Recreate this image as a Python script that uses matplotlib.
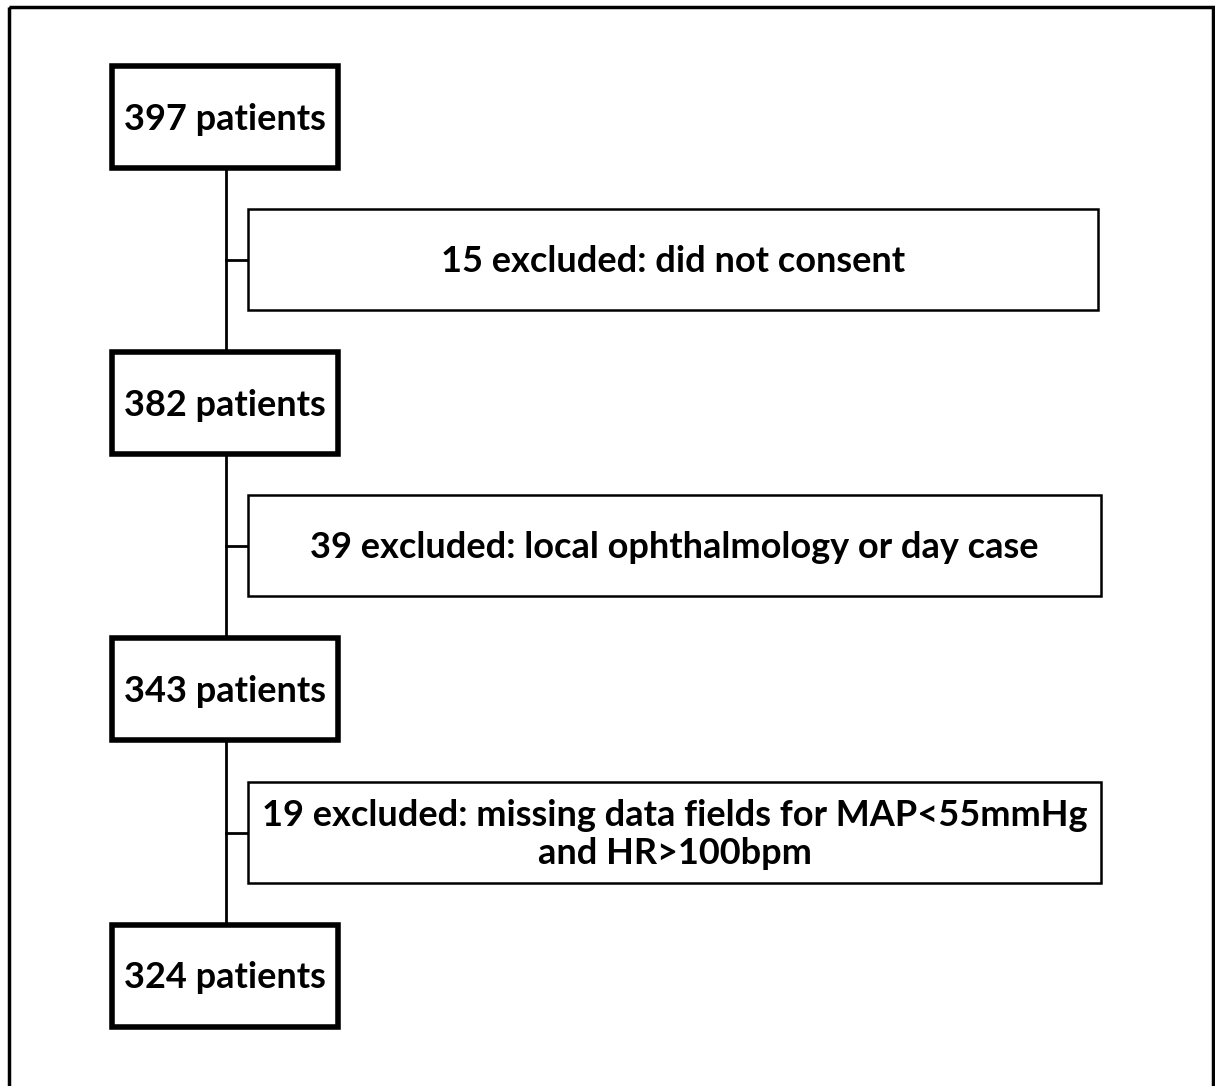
import matplotlib.pyplot as plt
from matplotlib.patches import Rectangle

plt.rcParams['font.family'] = ['Lato', 'DejaVu Sans']

# flow data
patients = [397, 382, 343, 324]
excluded = [15, 39, 19]
reasons = ["did not consent",
           "local ophthalmology or day case",
           "missing data fields for MAP<55mmHg\nand HR>100bpm"]

W, H = 1215, 1086
fig = plt.figure(figsize=(W / 100, H / 100), dpi=100)
ax = fig.add_axes([0, 0, 1, 1])
ax.set_xlim(0, W)
ax.set_ylim(H, 0)
ax.axis('off')

# outer frame
ax.add_patch(Rectangle((9, 7), 1204, 1100, fill=False, lw=2.5, ec='black'))

# main column boxes
px0, px1 = 112, 338
ptops = [66, 352, 638, 925]
ph = 102
spine_x = 226

ax.plot([spine_x, spine_x], [ptops[0] + ph, ptops[-1]], color='black', lw=2, zorder=1)

for n, top in zip(patients, ptops):
    ax.add_patch(Rectangle((px0, top), px1 - px0, ph, fill=True, fc='white',
                           ec='black', lw=4, zorder=2))
    ax.text((px0 + px1) / 2, top + ph / 2 + 2, f"{n} patients", ha='center', va='center',
            fontsize=26, fontweight='bold', zorder=3)

# exclusion boxes
ex0 = 248
ex1s = [1098, 1101, 1101]
etops = [209, 495, 782]
eh = 101
for k, reason, top, ex1 in zip(excluded, reasons, etops, ex1s):
    ax.add_patch(Rectangle((ex0, top), ex1 - ex0, eh, fill=True, fc='white',
                           ec='black', lw=1.8, zorder=2))
    mid = top + eh / 2
    ax.plot([spine_x, ex0], [mid, mid], color='black', lw=2, zorder=1)
    ax.text((ex0 + ex1) / 2, mid + 2, f"{k} excluded: {reason}", ha='center', va='center',
            fontsize=26, fontweight='bold', linespacing=1.2, zorder=3)

fig.savefig('out.png', dpi=100, facecolor='white')
